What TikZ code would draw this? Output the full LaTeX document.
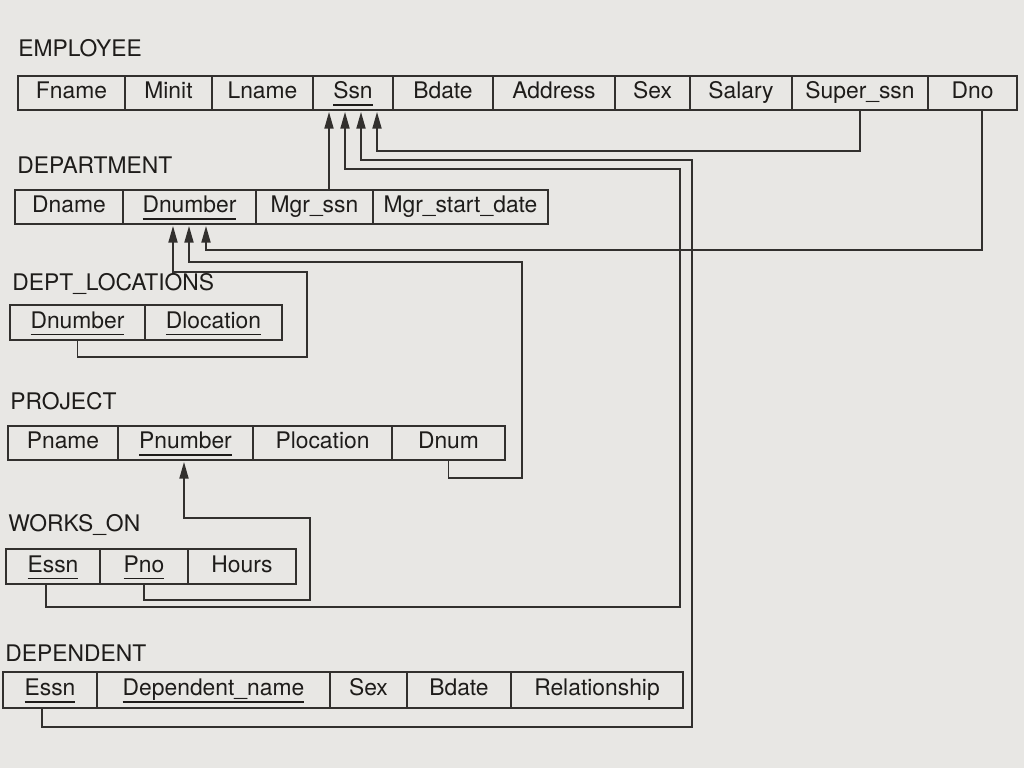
\documentclass[tikz,border=0pt]{standalone}
\usepackage{fontspec}
\setmainfont{TeX Gyre Heros}
\usetikzlibrary{arrows.meta}
\definecolor{paper}{RGB}{232,231,228}
\definecolor{ink}{RGB}{50,48,46}
\definecolor{txt}{RGB}{30,28,26}
\newcommand\ukey[1]{\setbox0\hbox{#1}\rlap{\rule[-3.8pt]{\wd0}{0.8pt}}\box0}
\newcommand\rcell[6]{\node[cellbox,minimum width={(#3-#2)*0.02cm},minimum height={(#5-#4)*0.02cm}] (#1) at ({(#2+#3)/2},{(#4+#5)/2}) {#6};}
\begin{document}
\begin{tikzpicture}[x=0.02cm,y=-0.02cm,
  cellbox/.style={draw=ink,line width=0.95pt,inner sep=0pt,text=txt,text height=9.4pt,text depth=2.6pt,font=\fontsize{13}{15}\selectfont},
  reltitle/.style={anchor=west,inner sep=0pt,text=txt,font=\fontsize{13}{15}\selectfont},
  fk/.style={draw=ink,line width=0.85pt,-{Triangle[length=9.5pt,width=5.2pt]}}]
\fill[paper] (0,0) rectangle (1024,768);
\useasboundingbox (0,0) rectangle (1024,768);
% EMPLOYEE
\node[reltitle] (tEmp) at (18,48) {EMPLOYEE};
\rcell{fname}{18}{125}{76}{110}{Fname}
\rcell{minit}{125}{212}{76}{110}{Minit}
\rcell{lname}{212}{313}{76}{110}{Lname}
\rcell{ssn}{313}{393}{76}{110}{\ukey{Ssn}}
\rcell{bdate}{393}{493}{76}{110}{Bdate}
\rcell{address}{493}{615}{76}{110}{Address}
\rcell{sex}{615}{690}{76}{110}{Sex}
\rcell{salary}{690}{792}{76}{110}{Salary}
\rcell{super}{792}{928}{76}{110}{Super\_ssn}
\rcell{dno}{928}{1017}{76}{110}{Dno}
% DEPARTMENT
\node[reltitle] (tDep) at (17,165) {DEPARTMENT};
\rcell{dname}{15}{123}{190}{224}{Dname}
\rcell{dnumber}{123}{256}{190}{224}{\ukey{Dnumber}}
\rcell{mgr}{256}{373}{190}{224}{Mgr\_ssn}
\rcell{mgrdate}{373}{548}{190}{224}{Mgr\_start\_date}
% DEPT_LOCATIONS
\node[reltitle] (tLoc) at (12,284) {DEPT\_LOCATIONS};
\rcell{dldn}{10}{145}{305}{340}{\ukey{Dnumber}}
\rcell{dlloc}{145}{282}{305}{340}{\ukey{Dlocation}}
% PROJECT
\node[reltitle] (tPro) at (10,401) {PROJECT};
\rcell{pname}{8}{118}{426}{460}{Pname}
\rcell{pnumber}{118}{253}{426}{460}{\ukey{Pnumber}}
\rcell{ploc}{253}{392}{426}{460}{Plocation}
\rcell{dnum}{392}{505}{426}{460}{Dnum}
% WORKS_ON
\node[reltitle] (tWo) at (8,525) {WORKS\_ON};
\rcell{woessn}{6}{100}{549}{584}{\ukey{Essn}}
\rcell{pno}{100}{188}{549}{584}{\ukey{Pno}}
\rcell{hours}{188}{296}{549}{584}{Hours}
% DEPENDENT
\node[reltitle] (tDpd) at (5,653) {DEPENDENT};
\rcell{depessn}{3}{97}{672}{708}{\ukey{Essn}}
\rcell{depname}{97}{330}{672}{708}{\ukey{Dependent\_name}}
\rcell{depsex}{330}{407}{672}{708}{Sex}
\rcell{depbdate}{407}{511}{672}{708}{Bdate}
\rcell{deprel}{511}{683}{672}{708}{Relationship}
% arrow tip coordinates and connector ends
\coordinate (ssnT1) at (329,112);
\coordinate (ssnT2) at (345,112);
\coordinate (ssnT3) at (361,112);
\coordinate (ssnT4) at (377,112);
\coordinate (dnT1) at (173,226);
\coordinate (dnT2) at (189,226);
\coordinate (dnT3) at (206,226);
\coordinate (pnT) at (184,462);
\coordinate (dnoS) at (982,110);
\coordinate (woS) at (46,584);
\coordinate (depS) at (42,708);
% connectors
\draw[fk] (mgr.north -| ssnT1) -- (ssnT1);
\draw[fk] (woS) |- (680,607) -- (680,169) -| (ssnT2);
\draw[fk] (depS) |- (692,727) -- (692,160) -| (ssnT3);
\draw[fk] (super.south) -- ++(0,40) -| (ssnT4);
\draw[fk] (dnoS) -- ++(0,140) -| (dnT3);
\draw[fk] (dnum.south) |- (522,478) -- (522,262) -| (dnT2);
\draw[fk] (dldn.south) |- (307,357) -- (307,272) -| (dnT1);
\draw[fk] (pno.south) |- (310,600) -- (310,518) -| (pnT);
\end{tikzpicture}
\end{document}
